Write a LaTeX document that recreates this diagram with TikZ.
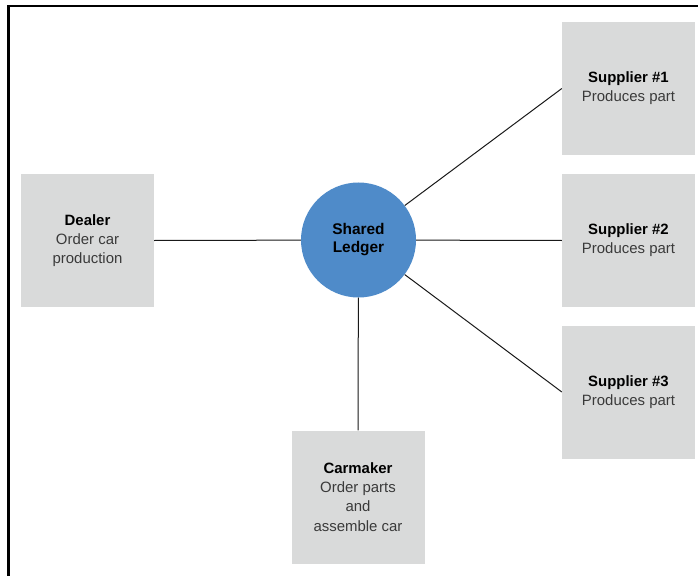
\documentclass[tikz,border=0pt]{standalone}
\usepackage{fontspec}
\setmainfont{Liberation Sans}
\definecolor{boxgray}{HTML}{D9DADA}
\definecolor{ledgerblue}{HTML}{4F8BC9}
\definecolor{descgray}{HTML}{3A3A3A}
\begin{document}
\begin{tikzpicture}[x=1bp,y=-1bp,
  party/.style={fill=boxgray, draw=none, minimum width=133bp, minimum height=133bp,
    inner sep=0pt, align=center, text=black,
    font=\fontsize{15}{19.2}\selectfont},
  ledger/.style={circle, fill=ledgerblue, draw=none, minimum size=115bp, inner sep=0pt,
    align=center, font=\fontsize{15.5}{18}\selectfont\bfseries, text=black},
  link/.style={draw=black!90, line width=1bp},
  frame/.style={draw=black, line width=2.5bp}]
\useasboundingbox (0,0) rectangle (698,576);
\coordinate (ftl) at (8.5,6);
\coordinate (ftr) at (698,6);
\coordinate (fbl) at (8.5,576);
\draw[frame] (ftr) -- (ftl) -- (fbl);
\node[ledger] (led) at (358.5,240) {Shared\\Ledger};
\node[party] (dealer) at (87.5,240.5) {\textbf{Dealer}\\{\color{descgray}Order car}\\{\color{descgray}production}};
\node[party] (s1) at (628.5,88.5) {\textbf{Supplier \#1}\\{\color{descgray}Produces part}};
\node[party] (s2) at (628.5,240.5) {\textbf{Supplier \#2}\\{\color{descgray}Produces part}};
\node[party] (s3) at (628.5,392) {\textbf{Supplier \#3}\\{\color{descgray}Produces part}};
\node[party] (car) at (358,497) {\textbf{Carmaker}\\{\color{descgray}Order parts}\\{\color{descgray}and}\\{\color{descgray}assemble car}};
\draw[link] (dealer.east) -- (led);
\draw[link] (led) -- (s1.west);
\draw[link] (led) -- (s2.west);
\draw[link] (led) -- (s3.west);
\draw[link] (led) -- (car.north);
\end{tikzpicture}
\end{document}
